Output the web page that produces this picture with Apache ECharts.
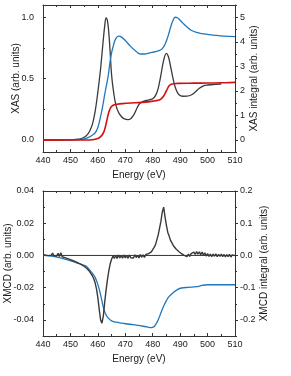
<!DOCTYPE html>
<html><head><meta charset="utf-8">
<script src="https://cdn.jsdelivr.net/npm/echarts@6/dist/echarts.min.js"></script>
<style>html,body{margin:0;padding:0;background:#fff}#c{width:291px;height:376px}</style>
</head><body><div id="c"></div>
<script>
// ---------- Top panel: XAS ----------
const xasE   = [440,450,452,454,455,456,457,458,459,460,461,461.5,462,462.5,463,463.5,464,464.5,465,465.8,466.6,467.5,468.5,469.5,471,472,473,474,475,476,477,478,479,480,481,482,483,484,485,485.7,486.5,487.5,488.5,489.5,491,492.5,494,495.5,497,498.5,500,502,505];
const xasVal = [0,0.0,0.003,0.01,0.02,0.038,0.07,0.125,0.23,0.39,0.58,0.70,0.82,0.93,0.995,0.97,0.87,0.71,0.53,0.38,0.28,0.225,0.192,0.172,0.164,0.172,0.2,0.245,0.288,0.308,0.317,0.322,0.327,0.335,0.36,0.42,0.53,0.65,0.705,0.68,0.6,0.49,0.41,0.37,0.355,0.356,0.365,0.39,0.42,0.44,0.447,0.45,0.455];

const stepE   = [440,455,458,460,461,462,462.5,463,463.5,464,464.5,465,466,467,469,472,476,480,482,483,484,485,486,487,489,495,500,505,510];
const stepVal = [-0.003,-0.002,0.0,0.01,0.025,0.055,0.085,0.13,0.18,0.225,0.255,0.272,0.285,0.29,0.295,0.3,0.305,0.315,0.322,0.332,0.357,0.4,0.44,0.455,0.46,0.462,0.463,0.465,0.468];

const intE   = [440,450,453,455,457,458,459,460,461,461.8,462.5,463,463.8,464.4,465,465.8,466.5,467.5,468.5,470,472,474,475.5,477,479,481,482.5,483.5,484.5,485.5,486.5,487.3,488.2,489,490,491,492.5,494,496,498,500,503,506,510];
const intVal = [0,0.0,0.01,0.04,0.12,0.19,0.28,0.5,0.95,1.40,1.85,2.15,2.63,3.15,3.55,3.9,4.12,4.23,4.2,4.05,3.8,3.6,3.5,3.5,3.55,3.6,3.65,3.72,3.9,4.2,4.58,4.85,5.0,4.98,4.88,4.76,4.6,4.47,4.38,4.33,4.3,4.26,4.23,4.21];

// ---------- Bottom panel: XMCD ----------
const xmcdE = [440,440.5,441,441.5,442,442.5,443,443.5,444,444.5,445,445.5,446,446.5,447,447.5,448,448.5,449,449.5,450,450.5,451,451.5,452,452.5,453,453.5,454,454.5,455,455.5,456,456.5,457,457.5,458,458.5,459,459.5,460,460.5,461,461.5,462,462.5,463,463.5,464,464.5,465,465.5,466,466.5,467,467.5,468,468.5,469,469.5,470,470.5,471,471.5,472,472.5,473,473.5,474,474.5,475,475.5,476,476.5,477,477.5,478,478.5,479,479.5,480,480.5,481,481.5,482,482.5,483,483.5,484,484.5,485,485.5,486,486.5,487,487.5,488,488.5,489,489.5,490,490.5,491,491.5,492,492.5,493,493.5,494,494.5,495,495.5,496,496.5,497,497.5,498,498.5,499,499.5,500,500.5,501,501.5,502,502.5,503,503.5,504,504.5,505,505.5,506,506.5,507,507.5,508,508.5,509,509.5,510];
const xmcdVal = [0.0006,0.0014,0.0001,0.0012,-0.0001,0.0011,0.0002,0.0015,-0.0002,0.0010,-0.0003,0.0013,-0.0006,0.0017,-0.0008,0.0004,-0.0014,-0.0003,-0.0020,-0.0009,-0.0026,-0.0015,-0.0033,-0.0023,-0.0040,-0.0030,-0.0048,-0.0039,-0.0057,-0.0049,-0.0067,-0.0064,-0.0081,-0.0082,-0.0100,-0.0107,-0.0126,-0.0145,-0.0170,-0.0208,-0.0262,-0.0335,-0.0400,-0.0420,-0.0375,-0.0290,-0.0215,-0.0150,-0.0095,-0.0052,-0.0024,-0.0004,-0.0018,0.0001,-0.0019,0.0003,-0.0016,-0.0001,-0.0017,0.0002,-0.0015,0.0000,-0.0018,0.0003,-0.0014,-0.0002,-0.0016,0.0004,-0.0013,0.0001,-0.0015,0.0005,-0.0011,0.0003,-0.0012,0.0006,-0.0005,0.0011,0.0004,0.0022,0.0026,0.0050,0.0066,0.0097,0.0128,0.0170,0.0213,0.0270,0.0300,0.0238,0.0187,0.0143,0.0120,0.0093,0.0082,0.0062,0.0057,0.0040,0.0040,0.0025,0.0027,0.0011,0.0016,0.0000,0.0010,-0.0007,0.0008,-0.0006,0.0011,0.0001,0.0020,0.0006,0.0024,0.0008,0.0023,0.0005,0.0021,0.0002,0.0016,-0.0004,0.0011,-0.0006,0.0009,-0.0007,0.0008,-0.0005,0.0010,-0.0008,0.0007,-0.0006,0.0009,-0.0007,0.0006,-0.0009,0.0005,-0.0008,0.0007,-0.0010,0.0004,-0.0008,-0.0001];

const xmcdIntE   = [440,443,445,447,449,451,453,455,456,457,458,459,460,460.8,461.5,462.2,463,464,465,466,468,470,473,476,478,479.5,480.5,481,482,483,484,485,486,487.5,489,490.5,493,496,498,500,505,510];
const xmcdIntVal = [0,-0.002,-0.005,-0.009,-0.014,-0.019,-0.025,-0.031,-0.035,-0.045,-0.055,-0.068,-0.09,-0.115,-0.142,-0.167,-0.185,-0.196,-0.203,-0.206,-0.209,-0.212,-0.215,-0.219,-0.222,-0.224,-0.221,-0.215,-0.2,-0.178,-0.157,-0.14,-0.127,-0.115,-0.106,-0.101,-0.099,-0.097,-0.093,-0.091,-0.091,-0.091];

const zeroE = [440,510];
const zeroVal = [0,0];

const topLeftTicks  = [0,0.5,1.0];
const topLeftMinor  = [0.25,0.75];
const topRightTicks = [0,1,2,3,4,5];
const topRightMinor = [-0.5,0.5,1.5,2.5,3.5,4.5,5.5];
const botLeftTicks  = [-0.04,-0.02,0,0.02,0.04];
const botLeftMinor  = [-0.05,-0.03,-0.01,0.01,0.03];
const botRightTicks = [-0.2,-0.1,0,0.1,0.2];
const botRightMinor = [-0.25,-0.15,-0.05,0.05,0.15];

const zip = (a,b)=>a.map((v,i)=>[v,b[i]]);

const FONT = 'Liberation Sans';
const AX = '#333';
const TXT = '#1a1a1a';
const BLACK = '#3a3a3a', BLUE = '#1f78bd', RED = '#d40f0f';

function xAx(grid, bottom){
  return {
    type:'value', gridIndex:grid, min:440, max:510, interval:10,
    position: bottom ? 'bottom' : 'top',
    name: bottom ? 'Energy (eV)' : '', nameLocation:'middle', nameGap:18, nameMoveOverlap:false,
    nameTextStyle:{fontFamily:FONT,fontSize:10,color:TXT},
    axisLine:{show:true,onZero:false,lineStyle:{color:AX,width:1}},
    axisTick:{show:true,inside:true,length:3,lineStyle:{color:AX}},
    minorTick:{show:true,splitNumber:2,length:2,lineStyle:{color:AX}},
    axisLabel:{show:bottom,margin:4,fontFamily:FONT,fontSize:9,color:TXT},
    splitLine:{show:false}, minorSplitLine:{show:false}
  };
}
function yMajor(grid, pos, min, max, ticks, dec, name, gap, margin){
  const left = pos==='left';
  return {
    type:'value', gridIndex:grid, min:min, max:max, position:pos,
    name:name, nameLocation:'middle', nameGap:gap, nameRotate:90, nameMoveOverlap:false,
    nameTextStyle:{fontFamily:FONT,fontSize:10,color:TXT},
    axisLine:{show:true,onZero:false,lineStyle:{color:AX,width:1}},
    axisTick:{show:true,inside:left,length:3,customValues:ticks,lineStyle:{color:AX}},
    axisLabel:{show:true,margin:margin,customValues:ticks,fontFamily:FONT,fontSize:9,color:TXT,
      formatter:v=>Number(v).toFixed(dec)},
    splitLine:{show:false}
  };
}
function yMinor(grid, pos, min, max, ticks){
  return {
    type:'value', gridIndex:grid, min:min, max:max, position:pos,
    axisLine:{show:false},
    axisTick:{show:true,inside:pos==='left',length:2,customValues:ticks,lineStyle:{color:AX}},
    axisLabel:{show:false},
    splitLine:{show:false}
  };
}

const option = {
  animation:false,
  backgroundColor:'#fff',
  grid:[
    {left:43, top:5, width:192, height:147, outerBoundsMode:'none', containLabel:false},
    {left:43, top:191, width:192, height:145, outerBoundsMode:'none', containLabel:false}
  ],
  xAxis:[ xAx(0,true), xAx(0,false), xAx(1,true), xAx(1,false) ],
  yAxis:[
    yMajor(0,'left',-0.1,1.1,topLeftTicks,1,'XAS (arb. units)',22,9),
    yMajor(0,'right',-0.5,5.5,topRightTicks,0,'XAS integral (arb. units)',14,5),
    yMajor(1,'left',-0.05,0.04,botLeftTicks,2,'XMCD (arb. units)',30,9),
    yMajor(1,'right',-0.25,0.2,botRightTicks,1,'XMCD integral (arb. units)',24,5),
    yMinor(0,'left',-0.1,1.1,topLeftMinor),
    yMinor(0,'right',-0.5,5.5,topRightMinor),
    yMinor(1,'left',-0.05,0.04,botLeftMinor),
    yMinor(1,'right',-0.25,0.2,botRightMinor)
  ],
  series:[
    {type:'line', xAxisIndex:0, yAxisIndex:0, data:zip(xasE,xasVal), smooth:0.4, symbol:'none', lineStyle:{color:BLACK,width:1.3}, z:2},
    {type:'line', xAxisIndex:0, yAxisIndex:1, data:zip(intE,intVal), smooth:0.4, symbol:'none', lineStyle:{color:BLUE,width:1.3}, z:3},
    {type:'line', xAxisIndex:0, yAxisIndex:0, data:zip(stepE,stepVal), smooth:0.4, symbol:'none', lineStyle:{color:RED,width:1.6}, z:4},
    {type:'line', xAxisIndex:2, yAxisIndex:2, data:zip(zeroE,zeroVal), symbol:'none', lineStyle:{color:'#333',width:1}, z:2},
    {type:'line', xAxisIndex:2, yAxisIndex:3, data:zip(xmcdIntE,xmcdIntVal), smooth:0.4, symbol:'none', lineStyle:{color:BLUE,width:1.3}, z:3},
    {type:'line', xAxisIndex:2, yAxisIndex:2, data:zip(xmcdE,xmcdVal), symbol:'none', lineStyle:{color:BLACK,width:1.4}, z:4}
  ]
};
const chart = echarts.init(document.getElementById('c'), null, {renderer:'canvas'});
chart.setOption(option);
</script></body></html>
